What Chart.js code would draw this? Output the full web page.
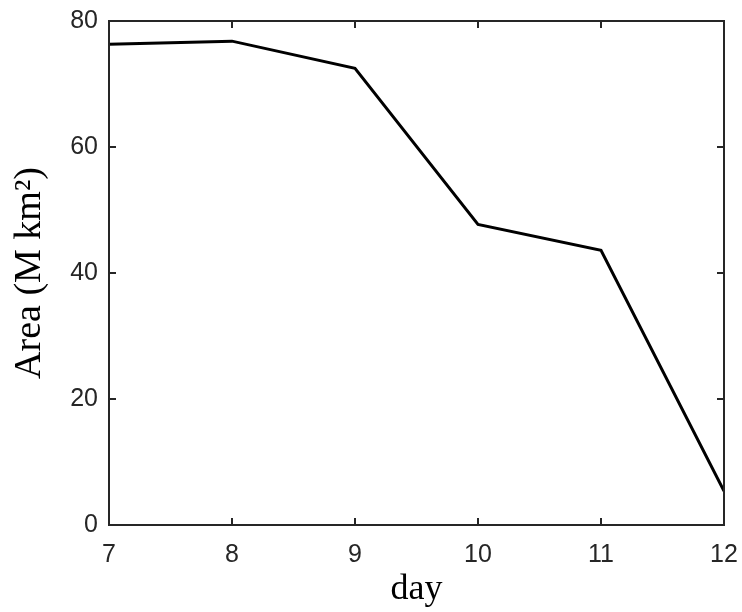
<!DOCTYPE html>
<html>
<head>
<meta charset="utf-8">
<script src="https://cdn.jsdelivr.net/npm/chart.js@4.4.1/dist/chart.umd.min.js"></script>
<style>
html, body { margin: 0; padding: 0; background: #fff; }
#wrap { width: 742px; height: 612px; }
</style>
</head>
<body>
<div id="wrap"><canvas id="chart" width="742" height="612"></canvas></div>
<script>
// values
var days = [7, 8, 9, 10, 11, 12];
var area = [76.3, 76.8, 72.5, 47.7, 43.6, 5.4];
var xTicks = [7, 8, 9, 10, 11, 12];
var yTicks = [0, 20, 40, 60, 80];

var axisColor = '#262626';

var points = [];
for (var i = 0; i < days.length; i++) {
    points.push({x: days[i], y: area[i]});
}

// MATLAB-like box with inward ticks on all four sides
var boxPlugin = {
    id: 'box',
    afterDraw: function(chart) {
        var c = chart.ctx;
        var a = chart.chartArea;
        var xs = chart.scales.x, ys = chart.scales.y;
        var len = 7;
        c.save();
        c.strokeStyle = axisColor;
        c.lineWidth = 2;
        c.strokeRect(a.left, a.top, a.right - a.left, a.bottom - a.top);
        c.beginPath();
        xTicks.forEach(function(v) {
            var px = xs.getPixelForValue(v);
            c.moveTo(px, a.bottom); c.lineTo(px, a.bottom - len);
            c.moveTo(px, a.top); c.lineTo(px, a.top + len);
        });
        yTicks.forEach(function(v) {
            var py = ys.getPixelForValue(v);
            c.moveTo(a.left, py); c.lineTo(a.left + len, py);
            c.moveTo(a.right, py); c.lineTo(a.right - len, py);
        });
        c.stroke();
        c.restore();
    }
};

function noPad(s) {
    s.paddingLeft = 0; s.paddingRight = 0;
    s.paddingTop = 0; s.paddingBottom = 0;
}

var tickFont = {family: "'Liberation Sans', Arial, sans-serif", size: 25};
var titleFont = {family: "'Liberation Serif', 'Times New Roman', serif", size: 36, lineHeight: 1};

new Chart(document.getElementById('chart').getContext('2d'), {
    type: 'line',
    data: {
        datasets: [{
            data: points,
            borderColor: '#000',
            borderWidth: 3,
            pointRadius: 0,
            tension: 0,
            fill: false
        }]
    },
    options: {
        responsive: false,
        animation: false,
        events: [],
        layout: {padding: {top: 21, right: 18, left: 0, bottom: 0}},
        plugins: {legend: {display: false}, tooltip: {enabled: false}},
        scales: {
            x: {
                type: 'linear',
                min: 7, max: 12,
                afterBuildTicks: function(s) { s.ticks = xTicks.map(function(v) { return {value: v}; }); },
                afterFit: function(s) { s.height = 87; noPad(s); },
                grid: {display: false, drawTicks: false},
                border: {display: false},
                ticks: {color: axisColor, font: tickFont, padding: 15, maxRotation: 0, autoSkip: false},
                title: {display: true, text: 'day', color: '#000', font: titleFont, padding: {top: 0, bottom: 4}}
            },
            y: {
                type: 'linear',
                min: 0, max: 80,
                afterBuildTicks: function(s) { s.ticks = yTicks.map(function(v) { return {value: v}; }); },
                afterFit: function(s) { s.width = 109; noPad(s); },
                grid: {display: false, drawTicks: false},
                border: {display: false},
                ticks: {color: axisColor, font: tickFont, padding: 11, autoSkip: false},
                title: {display: true, text: 'Area (M km\u00b2)', color: '#000',
                        font: {family: titleFont.family, size: 38, lineHeight: 1}, padding: {top: 11, bottom: 0}}
            }
        }
    },
    plugins: [boxPlugin]
});
</script>
</body>
</html>
